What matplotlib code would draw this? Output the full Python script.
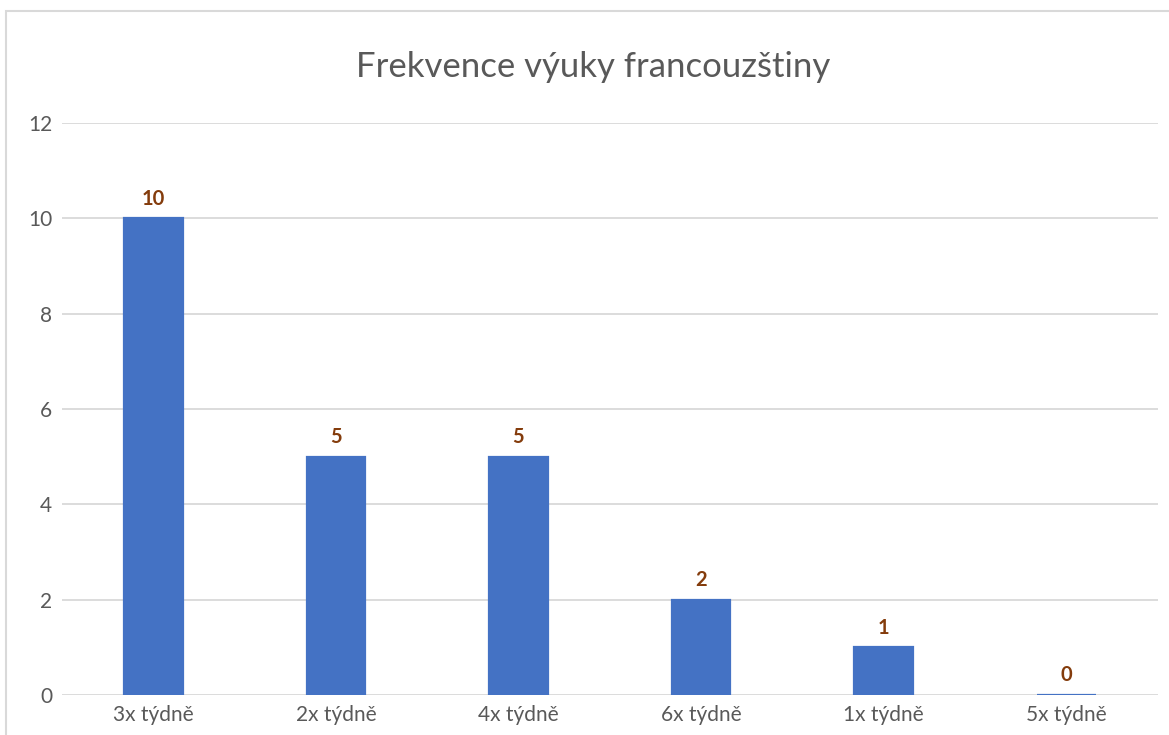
import matplotlib
matplotlib.use('Agg')
import matplotlib.pyplot as plt
from matplotlib.patches import Rectangle

kategorie = ['3x týdně', '2x týdně', '4x týdně', '6x týdně', '1x týdně', '5x týdně']
pocty = [10, 5, 5, 2, 1, 0]
yticks = [0, 2, 4, 6, 8, 10, 12]

plt.rcParams['font.family'] = ['Lato', 'DejaVu Sans']

fig = plt.figure(figsize=(11.69, 7.35), dpi=100)
W, H = 1169, 735

# chart border (right and bottom edges are cut off in the screenshot)
fig.patches.append(Rectangle((6 / W, -0.1), 1.2, 1.1 - 11 / H, transform=fig.transFigure,
                             fill=False, edgecolor='#D9D9D9', linewidth=1.5))

ax = fig.add_axes([62 / W, 1 - 695 / H, (1157.6 - 62) / W, (695 - 123) / H])
x = range(len(kategorie))
ax.bar(x, pocty, width=0.32, color='#4472C4', edgecolor='#4472C4', linewidth=1.6, zorder=3)

for i, v in enumerate(pocty):
    ax.annotate(str(v), (i, v), xytext=(0, 7), textcoords='offset points',
                ha='center', va='bottom', fontsize=14.5, fontweight='bold', color='#843C0C')

ax.set_xlim(-0.5, len(kategorie) - 0.5)
ax.set_ylim(0, 12)
ax.set_yticks(yticks)
ax.set_xticks(list(x))
ax.set_xticklabels(kategorie)
ax.grid(axis='y', color='#D9D9D9', linewidth=1.3, zorder=0)
for s in ax.spines.values():
    s.set_visible(False)
ax.tick_params(axis='both', length=0, labelsize=15, labelcolor='#595959')
ax.tick_params(axis='y', pad=7)
ax.tick_params(axis='x', pad=7)

fig.text(593 / W, 1 - 67 / H, 'Frekvence výuky francouzštiny', ha='center', va='center',
         fontsize=25, color='#595959')

plt.savefig('out.png', dpi=100)
plt.close()
